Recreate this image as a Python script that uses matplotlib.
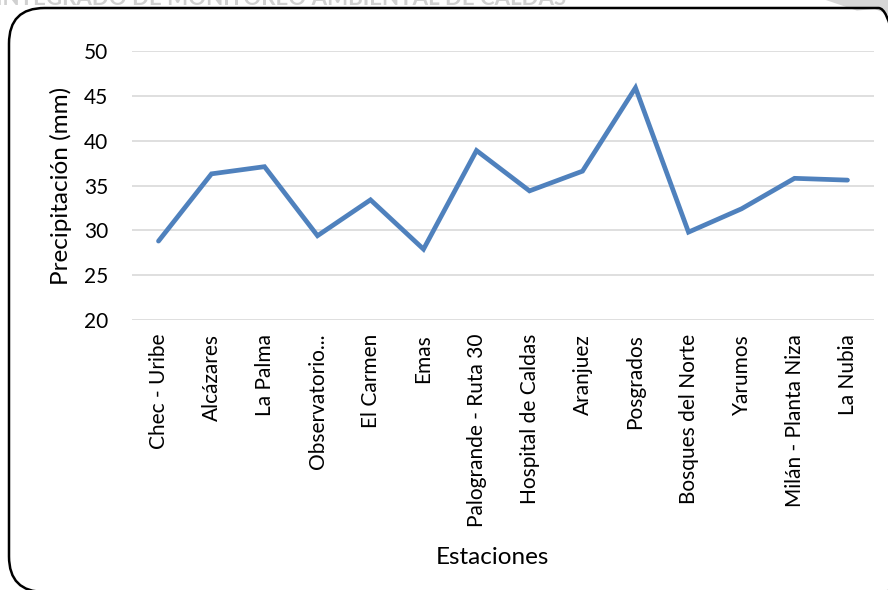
import matplotlib.pyplot as plt
from matplotlib.patches import FancyBboxPatch, Polygon

# === DATA ===
estaciones = [
    "Chec - Uribe", "Alcázares", "La Palma", "Observatorio...", "El Carmen",
    "Emas", "Palogrande - Ruta 30", "Hospital de Caldas", "Aranjuez",
    "Posgrados", "Bosques del Norte", "Yarumos", "Milán - Planta Niza", "La Nubia",
]
precipitacion = [28.8, 36.3, 37.1, 29.4, 33.4, 27.9, 38.9,
                 34.4, 36.6, 45.9, 29.8, 32.4, 35.8, 35.6]
yticks = [20, 25, 30, 35, 40, 45, 50]

plt.rcParams["font.family"] = ["Lato", "DejaVu Sans"]

fig = plt.figure(figsize=(8.88, 5.90), dpi=100)

# page header peeking in above the chart frame
fig.text(-0.004, 1.003, "INTEGRADO DE MONITOREO AMBIENTAL DE CALDAS",
         fontsize=16, fontweight="bold", color="#d0d0d0", ha="left", va="center")
fig.patches.append(Polygon([(0.93, 1.0), (1.0, 1.0), (1.0, 0.975), (0.985, 0.985), (0.965, 0.982)],
                           closed=True, transform=fig.transFigure,
                           facecolor="#d6d6d6", edgecolor="none"))

# rounded chart frame
frame = FancyBboxPatch((9 / 888, -2 / 590), 905 / 888, 584 / 590,
                       boxstyle="round,pad=0,rounding_size=0.04",
                       transform=fig.transFigure, facecolor="none",
                       edgecolor="black", linewidth=1.8,
                       mutation_aspect=888 / 590)
fig.patches.append(frame)

ax = fig.add_axes([132 / 888, 1 - 320 / 590, (874 - 132) / 888, (320 - 51) / 590])
x = range(len(estaciones))
ax.plot(x, precipitacion, color="#4f81bd", linewidth=3.4, solid_capstyle="round",
        solid_joinstyle="miter")

ax.set_xlim(-0.5, len(estaciones) - 0.5)
ax.set_ylim(20, 50)
ax.set_yticks(yticks)
ax.set_xticks(list(x))
ax.set_xticklabels(estaciones, rotation=90, fontsize=15, va="top")
ax.tick_params(axis="y", labelsize=15, length=0, pad=17)
ax.tick_params(axis="x", length=0, pad=10)
ax.grid(axis="y", color="#d9d9d9", linewidth=1.2)
ax.set_axisbelow(True)
for s in ax.spines.values():
    s.set_visible(False)

ax.set_ylabel("Precipitación (mm)", fontsize=17.5, labelpad=9)
fig.text(492 / 888, 1 - 557 / 590, "Estaciones", fontsize=17.5, ha="center", va="center")

fig.savefig("out.png", dpi=100)
